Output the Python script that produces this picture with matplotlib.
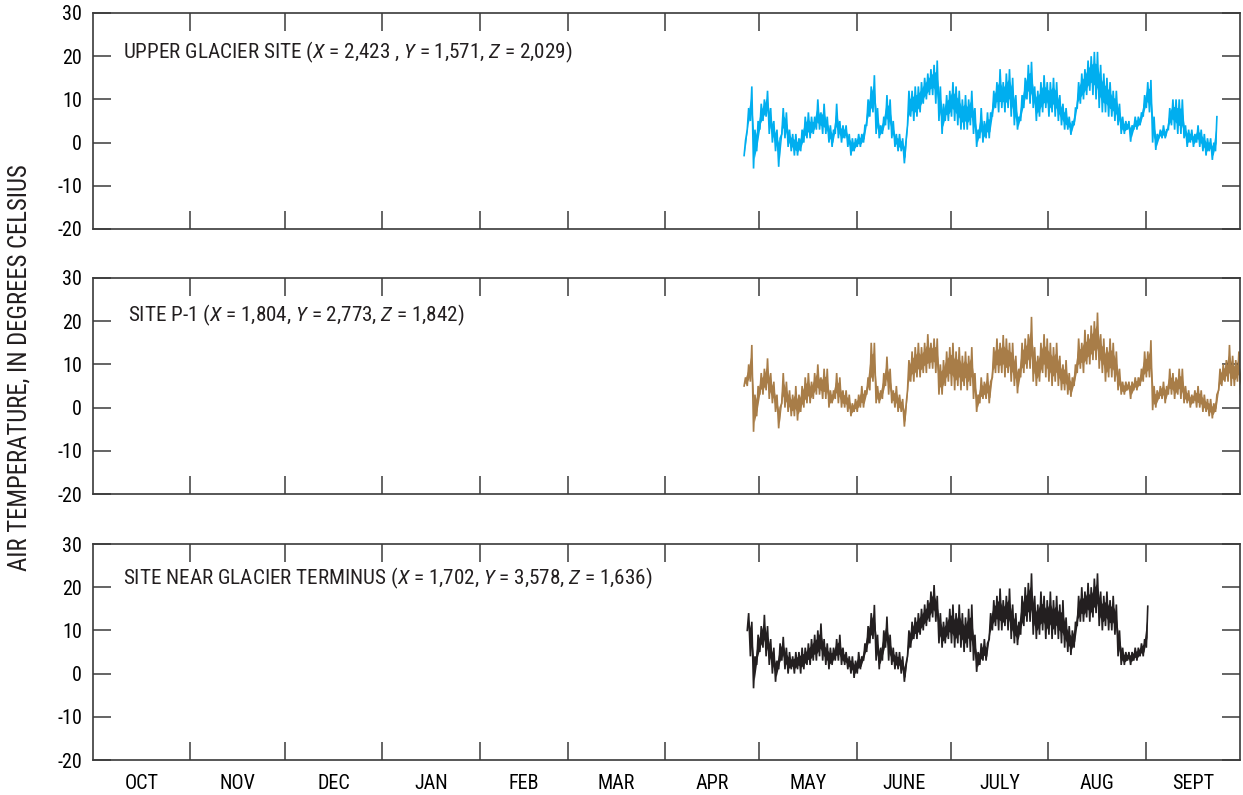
import matplotlib
matplotlib.use("Agg")
import matplotlib.pyplot as plt
from matplotlib import font_manager as fm
import numpy as np

# Prefer a narrow sans face for the labels
_available = {(f.name, str(f.stretch)) for f in fm.fontManager.ttflist}
_names = {n for n, _ in _available}
if "Liberation Sans Narrow" in _names:
    base_family, base_stretch = "Liberation Sans Narrow", "normal"
elif "Roboto Condensed" in _names:
    base_family, base_stretch = "Roboto Condensed", "normal"
elif any(n == "DejaVu Sans" and s in ("condensed", "semi-condensed", "75", "87") for n, s in _available):
    base_family, base_stretch = "DejaVu Sans", "condensed"
else:
    base_family, base_stretch = "Roboto", "normal"

plt.rcParams["font.family"] = [base_family, "DejaVu Sans"]
plt.rcParams["font.stretch"] = base_stretch
plt.rcParams["mathtext.fontset"] = "custom"
plt.rcParams["mathtext.rm"] = base_family
plt.rcParams["mathtext.it"] = base_family + ":italic"
plt.rcParams["axes.unicode_minus"] = False

# Water year axis: day 0 = October 1
months = ["OCT", "NOV", "DEC", "JAN", "FEB", "MAR", "APR", "MAY", "JUNE", "JULY", "AUG", "SEPT"]
month_days = [31, 30, 31, 31, 28, 31, 30, 31, 30, 31, 31, 30]
y_ticks = [-20, -10, 0, 10, 20, 30]

# Daily low / high air temperature (deg C), one value per day from the start day
upper_start = 207
upper_low = [-3, 3, 5, -6, -2, 3, 5, 6, 2, 0,
             -2, -5.6, 2, 1, -1, -2, -3, -3, -2, 0,
             1, 1, 2, 3, 3, 2, 2, 0, -1, 2,
             1, 0, 1, -1, -3, -2, -1, -1, 0, 4,
             6, 7, 2, 1, 2, 4, 3, 1, -1, -2,
             -2, -4.8, 4, 6, 5, 6, 7, 9, 10, 11,
             11, 9, 5, 2, 5, 5, 6, 5, 4, 3,
             3, 3, 4, 2, -1, 1, 0, 1, 1, 6,
             8, 7, 8, 7, 8, 6, 4, 3, 5, 8,
             10, 9, 8, 5, 6, 7, 8, 6, 7, 6,
             5, 4, 3, 3, 1.8, 4, 8, 9, 10, 11,
             12, 11, 10, 8, 7, 7, 6, 6, 5, 4,
             2, 2, 3, 0.2, 3, 3, 4, 6, 8, 7,
             0, -1.7, 1, 1, 1, 3, 4, 3, 2, 2,
             1, -1, 0, -1, 0, -1, -2, -3, -2, -4,
             -2]
upper_high = [0.5, 8, 13, 3, 5, 9, 10, 12, 8, 5,
              3, 1, 8, 7, 3, 2, 2, 1, 3, 6,
              7, 6, 6, 10, 7, 9, 6, 4, 3, 9,
              5, 4, 4, 2, 1, 1, 2, 2, 4, 10,
              13, 15.6, 8, 4, 6, 11, 10, 5, 2, 2,
              1, 0, 12, 12, 13, 13, 14, 15, 16, 17,
              18, 19, 13, 9, 11, 12, 14, 13, 12, 10,
              11, 10, 12, 8, 3, 8, 5, 7, 7, 12,
              14, 17, 14, 16, 17, 15, 11, 6, 11, 15,
              18, 18.7, 13, 12, 14, 15.6, 14, 14, 15, 14,
              11, 9, 8, 6, 5, 8, 14, 16, 17, 19,
              20, 21, 21, 18, 16, 15, 14, 12, 12, 9,
              6, 5, 5, 4, 6, 6, 7, 11, 14, 14.5,
              6, 2, 3, 4, 3, 8, 10, 10, 10, 10,
              4, 3, 3, 2, 4, 3, 2, 1, 1, 0,
              6]

p1_start = 207
p1_low = [5, 5, 6, -5.6, -2, 3, 3, 4, 2, 1,
          -1, -4.8, 1, 0, -1, -2, -2, -3, -1, 0,
          1, 1, 2, 3, 3, 2, 2, 0, 1, 2,
          1, 0, 0, -1, -2, -1, -1, 0, 0, 3,
          4, 6, 1, 1, 2, 5, 3, 1, 0, -1,
          -1, -4.4, 4, 6, 6, 7, 7, 8, 8, 9,
          9, 8, 3, 3, 5, 6, 5, 4, 5, 4,
          5, 4, 5, 2, -1, 1, 2, 2, 1, 7,
          8, 8, 8, 7, 8, 6, 5, 3.3, 7, 8,
          9, 9, 6, 5, 6, 8, 7, 6, 5, 6,
          5, 4, 4, 3, 2.5, 5, 8, 9, 8, 10,
          10, 11, 11, 9, 8, 6, 7, 7, 6, 4,
          3, 3, 4, 2, 4, 4, 5, 6, 7, 7,
          -0.6, 0, 2, 2, 1, 3, 3, 2, 3, 2,
          1, 1, 0, 1, 0, 0, -1, -1, -2, -2.5,
          -1, 4, 5, 6, 6, 5, 5, 6, 3]
p1_high = [7, 10, 14.5, 3, 5, 8, 9, 11.4, 8, 6,
           3, 0, 8, 6, 4, 3, 5, 3, 5, 7,
           8, 6, 8, 10, 7, 9, 9, 4, 4, 8,
           7, 4, 4, 3, 1, 2, 3, 5, 4, 7,
           15, 15, 5, 4, 8, 11.8, 9, 4, 5, 3,
           2, 0, 11, 13, 14, 15, 14, 15, 17, 15,
           16, 16, 10, 11, 13, 14, 15, 13, 14, 12,
           13, 12, 14, 8, 3, 7, 6, 8, 6, 14,
           16, 15, 16.8, 16, 15, 15, 12, 9, 15, 16,
           17, 21, 14, 12, 15, 17, 16, 15, 14, 15,
           12, 10, 11, 8, 7, 10, 16, 15, 18, 17,
           19, 20, 22, 17, 16, 14, 16, 15, 13, 9,
           6, 6, 6, 6, 7, 7, 9, 13, 13, 15.6,
           5, 4, 5, 6, 5, 9, 8, 7, 9, 9,
           5, 4, 3, 4, 5, 4, 3, 2, 2, 1,
           3, 9, 10, 11, 14.5, 12, 11, 13, 8]

term_start = 208
term_low = [10, 4, -3.4, 2, 5, 6, 4, 2, 0, -1.9,
            1, 3, 1, 0, 1, 0, 1, 0, 1, 2,
            2, 3, 3, 4, 3, 2, 1, 2, 3, 3,
            2, 2, 1, 0, -1, 0, 1, 3, 5, 7,
            8, 3, 1, 3, 6, 3, 2, 1, 1, 0,
            -1.9, 4, 6, 8, 8, 9, 10, 11, 12, 13,
            12, 7, 6, 7, 8, 7, 6, 7, 6, 5,
            6, 5, 3, 0.4, 2, 3, 3, 8, 10, 11,
            10, 10, 11, 10, 8, 7, 6.6, 9, 11, 12,
            12, 9, 8, 9, 10, 8, 9, 8, 9, 8,
            7, 6, 5, 4.3, 6, 11, 12, 12, 13, 12,
            13, 14, 11, 10, 11, 10, 10, 9, 4, 2,
            2, 3, 2, 3, 3, 4, 4, 6]
term_high = [14, 12, 4, 9, 11, 13.6, 11, 8, 6, 3,
             7, 8.5, 6, 5, 4, 5, 5, 6, 6, 7,
             8, 9, 10, 11.6, 8, 7, 6, 6, 8, 9,
             6, 5, 4, 4, 3, 5, 4, 7, 11, 14,
             15.9, 9, 6, 10, 13.2, 9, 6, 5, 5, 4,
             2, 10, 12, 13, 14, 15, 16, 17, 19, 20.5,
             18, 14, 12, 13, 15, 16, 14, 16, 14, 13,
             15, 16, 9, 5, 7, 8, 7, 14, 17, 18,
             19.7, 17, 18, 19.7, 16, 14, 12, 18, 20, 21,
             23.2, 18, 16, 19, 18, 17, 19, 17, 18, 16,
             17, 13, 11, 10, 12, 18, 20, 19, 21, 20,
             22, 23.2, 19, 18, 19, 17, 18, 16, 10, 6,
             5, 5, 5, 6, 6, 7, 8, 15.6]

sites = [
    ("UPPER GLACIER SITE ($X$ = 2,423 , $Y$ = 1,571, $Z$ = 2,029)", upper_start, upper_low, upper_high, "#00AEEF", 9.5, 21.0),
    ("SITE P-1 ($X$ = 1,804, $Y$ = 2,773, $Z$ = 1,842)", p1_start, p1_low, p1_high, "#A87D48", 11.0, 21.4),
    ("SITE NEAR GLACIER TERMINUS ($X$ = 1,702, $Y$ = 3,578, $Z$ = 1,636)", term_start, term_low, term_high, "#231F20", 9.5, 22.1),
]

month_edges = np.concatenate([[0], np.cumsum(month_days)])
month_mid = (month_edges[:-1] + month_edges[1:]) / 2

fig = plt.figure(figsize=(12.43, 7.95), dpi=100)
W, H = 1243, 795
left, right = 93 / W, 1240 / W
panel_px = [(13, 229), (278, 494), (544, 760)]
spine_color = "#3a3a3a"

for i, ((label, start, low, high, color, tx, ty), (top, bot)) in enumerate(zip(sites, panel_px)):
    ax = fig.add_axes([left, 1 - bot / H, right - left, (bot - top) / H])
    low = np.asarray(low, dtype=float)
    high = np.asarray(high, dtype=float)
    days = start + np.arange(len(low))
    # morning minimum followed by afternoon maximum for each day
    x = np.column_stack([days + 0.2, days + 0.65]).ravel()
    y = np.column_stack([low, high]).ravel()
    mid = (low + high) / 2
    ax.fill_between(days + 0.42, (low + mid) / 2, (high + mid) / 2, color=color, lw=0)
    ax.plot(x, y, color=color, lw=1.2, solid_joinstyle="miter")

    ax.set_xlim(0, 365)
    ax.set_ylim(-20, 30)
    ax.set_yticks(y_ticks)
    ax.set_yticklabels([str(v) for v in y_ticks])
    ax.set_xticks(month_edges[1:-1])
    ax.set_xticks(month_mid, minor=True)
    ax.tick_params(axis="both", which="major", direction="in", length=13, width=1.1,
                   color=spine_color, top=True, right=True, labelsize=14.5, pad=8)
    ax.tick_params(axis="x", which="major", labelbottom=False)
    ax.tick_params(axis="x", which="minor", length=0, labelsize=14.5, pad=10,
                   labelbottom=(i == 2))
    if i == 2:
        ax.set_xticklabels(months, minor=True)
    for s in ax.spines.values():
        s.set_color(spine_color)
        s.set_linewidth(1.2)
    ax.text(tx, ty, label, fontsize=15.2, va="center", ha="left", color="#231F20")

fig.text(20 / W, 1 - 368 / H, "AIR TEMPERATURE, IN DEGREES CELSIUS", rotation=90,
         va="center", ha="center", fontsize=17.8, color="#231F20")

fig.savefig("out.png", dpi=100)
